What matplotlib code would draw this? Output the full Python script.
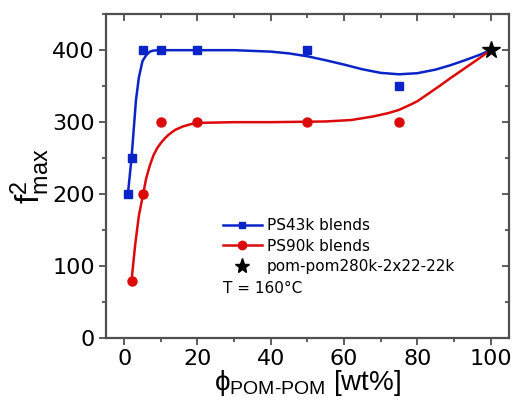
import numpy as np
import matplotlib
matplotlib.use('Agg')
import matplotlib.pyplot as plt
from matplotlib.ticker import MultipleLocator
from matplotlib.lines import Line2D

plt.rcParams['font.family'] = ['DejaVu Sans']
plt.rcParams['mathtext.fontset'] = 'custom'
plt.rcParams['mathtext.rm'] = 'Liberation Sans'

# measured points
ps43_x = [1, 2, 5, 10, 20, 50, 75]
ps43_y = [200, 250, 400, 400, 400, 400, 350]
ps90_x = [2, 5, 10, 20, 50, 75]
ps90_y = [80, 200, 300, 300, 300, 300]
pompom_x = [100]
pompom_y = [400]

# guide-to-the-eye curves
fit43_x = [1, 2, 2.6, 3.2, 4, 5, 6, 7, 8, 10, 15, 20, 30, 40, 45, 50, 55, 60, 65, 70, 75,
           80, 85, 89, 93, 97, 100]
fit43_y = [200, 250, 290, 330, 362, 385, 393, 398, 399.5, 400, 400, 400, 400, 398, 395.5, 391.5,
           386, 380, 373.5, 368.5, 366.5, 368, 373, 379, 386, 393.5, 400]
fit90_x = [2, 3, 4, 5.2, 6, 7, 8, 9, 10, 11, 12, 13, 14, 16, 18, 20, 30, 40, 48, 55, 62, 68, 72,
           75, 78, 80, 82, 84, 86, 89, 91, 93, 95, 97, 100]
fit90_y = [80, 130, 170, 201, 222, 240, 254, 264, 271, 277, 282, 286, 289.5, 294, 297, 299, 300,
           300, 300.5, 301, 303, 308, 312.5, 317, 324, 329, 336, 343, 350, 361, 368, 375, 382,
           389, 400]

blue = '#0a24c8'
red = '#dc0a0a'

fig = plt.figure(figsize=(5.14, 4.05), dpi=100)
ax = fig.add_axes([0.206, 0.165, 0.784, 0.8])

ax.plot(fit43_x, fit43_y, '-', color=blue, lw=1.8)
ax.plot(fit90_x, fit90_y, '-', color=red, lw=1.8)
ax.plot(ps43_x, ps43_y, 's', color=blue, ms=5.5, mec=blue)
ax.plot(ps90_x, ps90_y, 'o', color=red, ms=6.5, mec=red)
ax.plot(pompom_x, pompom_y, '*', color='black', ms=13, zorder=5)

ax.set_xlim(-5, 105)
ax.set_ylim(0, 450)
ax.xaxis.set_major_locator(MultipleLocator(20))
ax.xaxis.set_minor_locator(MultipleLocator(10))
ax.yaxis.set_major_locator(MultipleLocator(100))
ax.yaxis.set_minor_locator(MultipleLocator(50))

spine_c = '#505050'
for s in ax.spines.values():
    s.set_color(spine_c)
    s.set_linewidth(1.6)
ax.tick_params(which='both', color=spine_c, width=1.3, labelsize=16, pad=3)
ax.tick_params(which='major', length=5)
ax.tick_params(which='minor', length=3)
ax.tick_params(axis='x', which='both', direction='out', top=False)
ax.tick_params(axis='y', which='both', direction='out', right=False)
# inward ticks on top and right
ax2 = ax.secondary_xaxis('top')
ax2.xaxis.set_major_locator(MultipleLocator(20))
ax2.xaxis.set_minor_locator(MultipleLocator(10))
ax2.tick_params(which='both', direction='in', color=spine_c, width=1.3, labeltop=False)
ax2.tick_params(which='major', length=5)
ax2.tick_params(which='minor', length=3)
ax2.spines['top'].set_visible(False)
ay2 = ax.secondary_yaxis('right')
ay2.yaxis.set_major_locator(MultipleLocator(100))
ay2.yaxis.set_minor_locator(MultipleLocator(50))
ay2.tick_params(which='both', direction='in', color=spine_c, width=1.3, labelright=False)
ay2.tick_params(which='major', length=5)
ay2.tick_params(which='minor', length=3)
ay2.spines['right'].set_visible(False)

ax.set_ylabel(r'$\mathregular{f^{2}_{max}}$', fontsize=24, labelpad=0,
              family='Liberation Sans')
ax.set_xlabel(r'$\mathregular{ϕ_{POM\text{-}POM}}$ [wt%]', fontsize=20, labelpad=-1,
              family='Liberation Sans')

handles = [Line2D([], [], color=blue, lw=1.8, marker='s', ms=5),
           Line2D([], [], color=red, lw=1.8, marker='o', ms=6),
           Line2D([], [], color='black', ls='none', marker='*', ms=11)]
labels = ['PS43k blends', 'PS90k blends', 'pom-pom280k-2x22-22k']
ax.legend(handles, labels, frameon=False, fontsize=11, loc='upper left',
          bbox_to_anchor=(0.29, 0.37), handlelength=2.55, handletextpad=0.33,
          labelspacing=0.35, borderpad=0, borderaxespad=0, numpoints=1)
ax.text(0.29, 0.139, 'T = 160°C', transform=ax.transAxes, fontsize=11, va='baseline')

fig.savefig('out.png', dpi=100)
